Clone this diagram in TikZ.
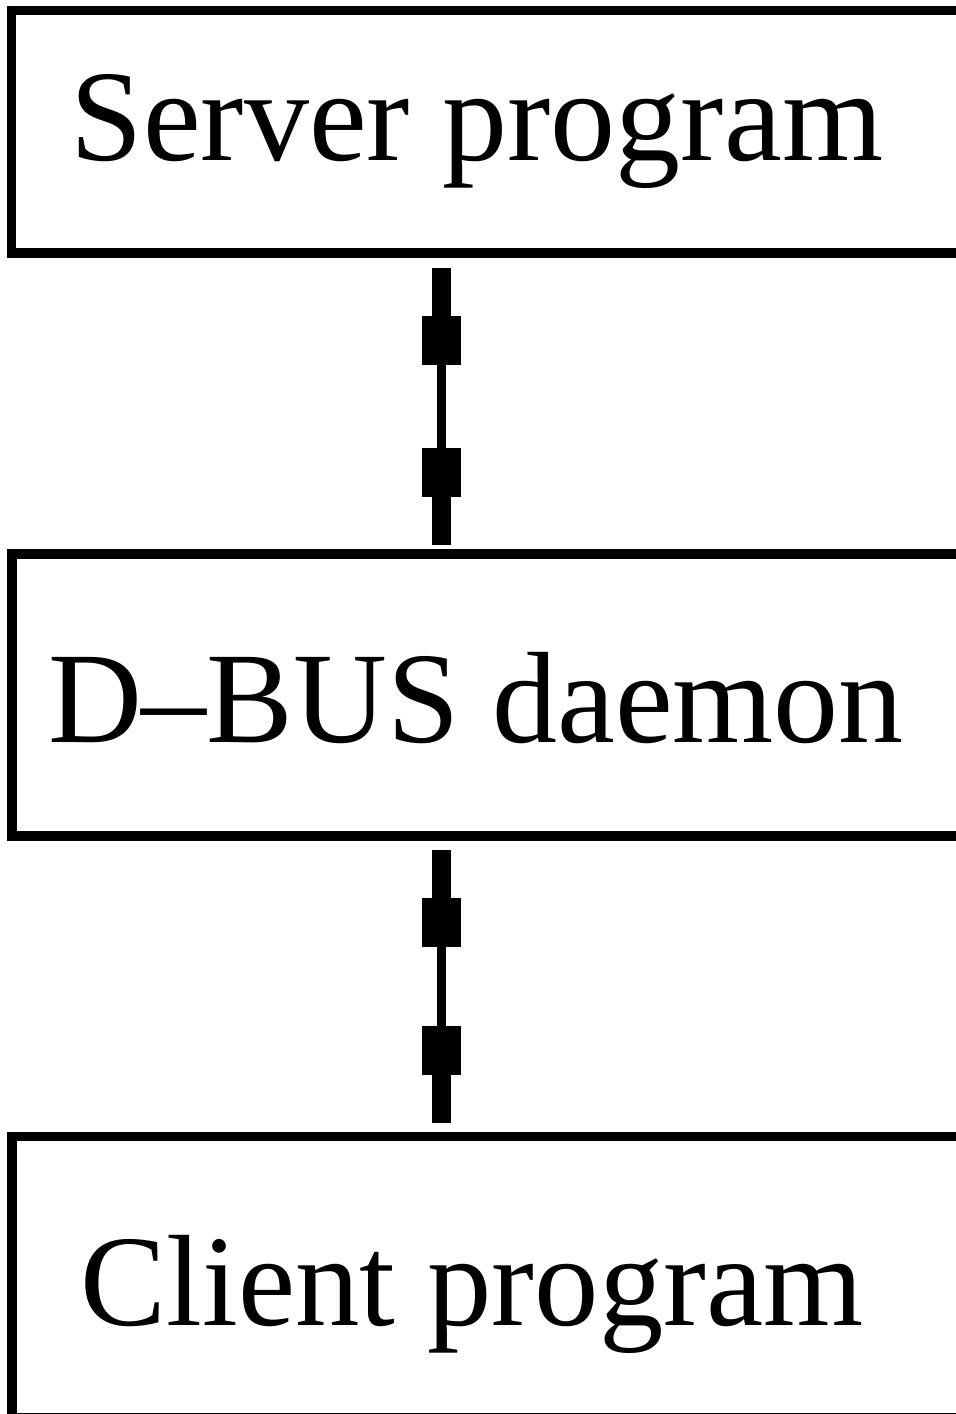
\documentclass[tikz,border=0pt]{standalone}
\usepackage{fontspec}
\setmainfont{Liberation Serif}
\usetikzlibrary{arrows.meta}

\tikzset{
  layerbox/.style={draw, line width=9.5pt, outer sep=0pt, inner sep=0pt,
                   anchor=north west, minimum width=990pt},
  layername/.style={anchor=base, inner sep=0pt,
                    font=\fontsize{130pt}{130pt}\selectfont},
  Fat/.tip={Rectangle[length=49pt,width=39pt,sep=0pt,line width=0pt]
            Rectangle[length=48pt,width=19pt,sep=0pt,line width=0pt]},
  link/.style={line width=9pt, {Fat}-{Fat}}
}

\begin{document}
\begin{tikzpicture}[x=1pt,y=-1pt]
  \useasboundingbox (0,0) rectangle (956,1414);
  \clip (0,0) rectangle (956,1414);

  % the three layers; their right sides run past the page edge
  \node[layerbox, minimum height=242.5pt] (server) at (11.5,10.5) {};
  \node[layerbox, minimum height=282pt]   (dbus)   at (12,554)    {};
  \node[layerbox, minimum height=281.5pt] (client) at (12,1136.5) {};

  \node[layername] (servertext) at (477,160)  {Server program};
  \node[layername] (dbustext)   at (476,742)  {D–BUS daemon};
  \node[layername, xscale=0.99] (clienttext) at (472,1325) {Client program};

  % vertical axis shared by the two message links
  \coordinate (axis) at (441,0);

  \draw[link, shorten <=15pt, shorten >=9pt]
    (axis |- server.south) -- (axis |- dbus.north);
  \draw[link, shorten <=14pt, shorten >=14pt]
    (axis |- dbus.south) -- (axis |- client.north);
\end{tikzpicture}
\end{document}
